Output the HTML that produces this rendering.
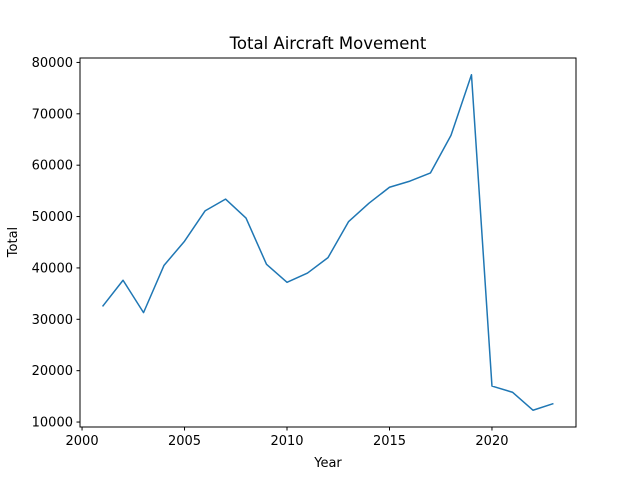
<!DOCTYPE html>
<html><head><meta charset="utf-8"><style>
body{margin:0;background:#fff;}
svg{display:block;font-family:"DejaVu Sans","Liberation Sans",sans-serif;}
</style></head><body>
<svg id="chart" width="640" height="480">
<rect width="640" height="480" fill="#fff"/>
<text x="328" y="49" font-size="16.5" text-anchor="middle">Total Aircraft Movement</text>
<g id="axes"></g>
<rect x="80" y="58" width="496" height="369" fill="none" stroke="#000" stroke-width="1"/>
<text x="328" y="467" font-size="13" text-anchor="middle">Year</text>
<text x="17" y="242" font-size="13" text-anchor="middle" transform="rotate(-90 17 242)">Total</text>
</svg>
<script>
const years=[2001,2002,2003,2004,2005,2006,2007,2008,2009,2010,2011,2012,2013,2014,2015,2016,2017,2018,2019,2020,2021,2022,2023];
const totals=[32500,37600,31300,40500,45200,51100,53400,49700,40700,37200,39000,42000,49000,52600,55700,56900,58500,65800,77600,17000,15800,12300,13600];
const xTicks=[2000,2005,2010,2015,2020];
const yTicks=[10000,20000,30000,40000,50000,60000,70000,80000];
const NS="http://www.w3.org/2000/svg";
const L=80,R=576,T=58,B=427;
const x0=2001-1.1,x1=2023+1.1;
const ymin=Math.min(...totals),ymax=Math.max(...totals),yr=ymax-ymin;
const y0=ymin-0.05*yr,y1=ymax+0.05*yr;
const sx=v=>L+(v-x0)/(x1-x0)*(R-L);
const sy=v=>B-(v-y0)/(y1-y0)*(B-T);
const g=document.getElementById('axes');
function mk(tag,attrs){const e=document.createElementNS(NS,tag);for(const k in attrs)e.setAttribute(k,attrs[k]);g.appendChild(e);return e;}
xTicks.forEach(t=>{const x=sx(t);
const l=mk('line',{x1:x,x2:x,y1:B,y2:B+3.5,stroke:'#000'});


const tx=mk('text',{x:x,y:B+18,'font-size':13,'text-anchor':'middle'});tx.textContent=t;


});
yTicks.forEach(t=>{const y=sy(t);
const l=mk('line',{x1:L-3.5,x2:L,y1:y,y2:y,stroke:'#000'});


const tx=mk('text',{x:L-7,y:y+4.5,'font-size':13,'text-anchor':'end'});tx.textContent=t;


});
const p=mk('polyline',{points:years.map((yv,i)=>sx(yv)+','+sy(totals[i])).join(' '),fill:'none',stroke:'#1f77b4','stroke-width':1.5,'stroke-linejoin':'round'});


</script>
</body></html>
